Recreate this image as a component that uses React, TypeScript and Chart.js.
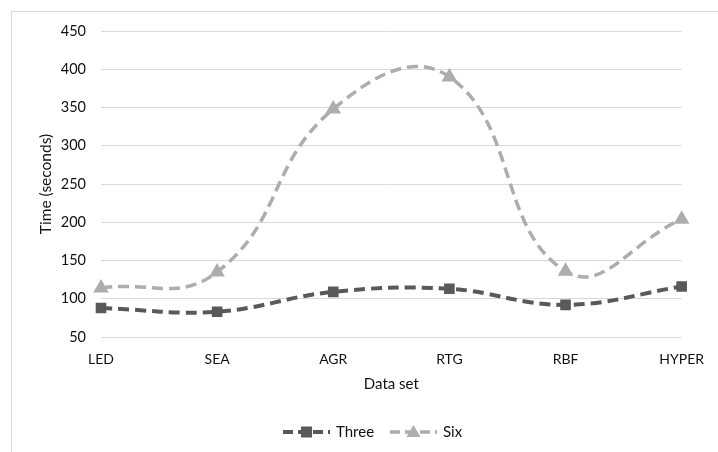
import React, { useEffect, useRef } from "react";
import { Chart, registerables } from "chart.js";

Chart.register(...registerables);

const categories = ["LED", "SEA", "AGR", "RTG", "RBF", "HYPER"];
const threeValues = [88, 83, 109, 113, 92, 116];
const sixValues = [114, 135, 348, 390, 136, 204];
const yTicks = [50, 100, 150, 200, 250, 300, 350, 400, 450];

const THREE_COLOR = "#595959";
const SIX_COLOR = "#ADADAD";
const TEXT_COLOR = "#111111";
const FONT = "Lato, 'Open Sans', sans-serif";

const decorPlugin = {
  id: "decor",
  beforeDraw(chart: any) {
    const ctx = chart.ctx;
    ctx.save();
    ctx.strokeStyle = "#d9d9d9";
    ctx.lineWidth = 1;
    ctx.strokeRect(11.5, 11.5, 900, 900);
    ctx.restore();
  },
  afterDraw(chart: any) {
    const ctx = chart.ctx;
    const items = [
      { label: "Three", color: THREE_COLOR, style: "rect", x: 283, w: 4 },
      { label: "Six", color: SIX_COLOR, style: "triangle", x: 390, w: 3.5 },
    ];
    const y = 432;
    ctx.save();
    for (const it of items) {
      ctx.strokeStyle = it.color;
      ctx.lineWidth = it.w;
      ctx.setLineDash([10, 5]);
      ctx.beginPath();
      ctx.moveTo(it.x, y);
      ctx.lineTo(it.x + 47, y);
      ctx.stroke();
      ctx.setLineDash([]);
      ctx.fillStyle = it.color;
      ctx.beginPath();
      const cx = it.x + 23.5;
      if (it.style === "rect") {
        ctx.rect(cx - 5.5, y - 5.5, 11, 11);
      } else {
        ctx.moveTo(cx, y - 7);
        ctx.lineTo(cx + 7, y + 5);
        ctx.lineTo(cx - 7, y + 5);
        ctx.closePath();
      }
      ctx.fill();
      ctx.fillStyle = TEXT_COLOR;
      ctx.font = `15px ${FONT}`;
      ctx.textBaseline = "middle";
      ctx.textAlign = "left";
      ctx.fillText(it.label, it.x + 53, y);
    }
    ctx.restore();
  },
};

export default function App() {
  const ref = useRef<HTMLCanvasElement>(null);
  useEffect(() => {
    document.body.style.margin = "0";
    const chart = new Chart(ref.current!, {
      type: "line",
      data: {
        labels: categories,
        datasets: [
          {
            label: "Three",
            data: threeValues,
            borderColor: THREE_COLOR,
            backgroundColor: THREE_COLOR,
            borderWidth: 4,
            borderDash: [11, 6],
            tension: 0.4,
            pointStyle: "rect",
            pointRadius: 7.5,
            pointBorderWidth: 0,
          },
          {
            label: "Six",
            data: sixValues,
            borderColor: SIX_COLOR,
            backgroundColor: SIX_COLOR,
            borderWidth: 3.5,
            borderDash: [11, 6],
            tension: 0.45,
            pointStyle: "triangle",
            pointRadius: 9,
            pointBorderWidth: 0,
          },
        ],
      },
      options: {
        responsive: false,
        animation: false,
        layout: { padding: { left: 0, right: 34, top: 31, bottom: 59 } },
        plugins: { legend: { display: false }, tooltip: { enabled: false } },
        scales: {
          x: {
            offset: false,
            grid: { display: false, drawTicks: false },
            border: { display: false },
            ticks: { color: TEXT_COLOR, font: { family: FONT, size: 14 }, padding: 14, maxRotation: 0 },
            title: {
              display: true,
              text: "Data set",
              color: TEXT_COLOR,
              font: { family: FONT, size: 15 },
              padding: { top: 0, bottom: 0 },
            },
            afterFit: (s: any) => {
              s.height = 56;
            },
          },
          y: {
            min: 50,
            max: 450,
            afterBuildTicks: (s: any) => {
              s.ticks = yTicks.map((v) => ({ value: v }));
            },
            grid: { color: "#d9d9d9", lineWidth: 1, drawTicks: false },
            border: { display: false },
            ticks: { color: TEXT_COLOR, font: { family: FONT, size: 14.5 }, padding: 15 },
            title: {
              display: true,
              text: "Time (seconds)",
              color: TEXT_COLOR,
              font: { family: FONT, size: 15.5 },
              padding: { top: 37, bottom: 0 },
            },
            afterFit: (s: any) => {
              s.width = 101;
            },
          },
        },
      },
      plugins: [decorPlugin],
    });
    return () => chart.destroy();
  }, []);
  return <canvas ref={ref} width={718} height={452} style={{ display: "block" }} />;
}
